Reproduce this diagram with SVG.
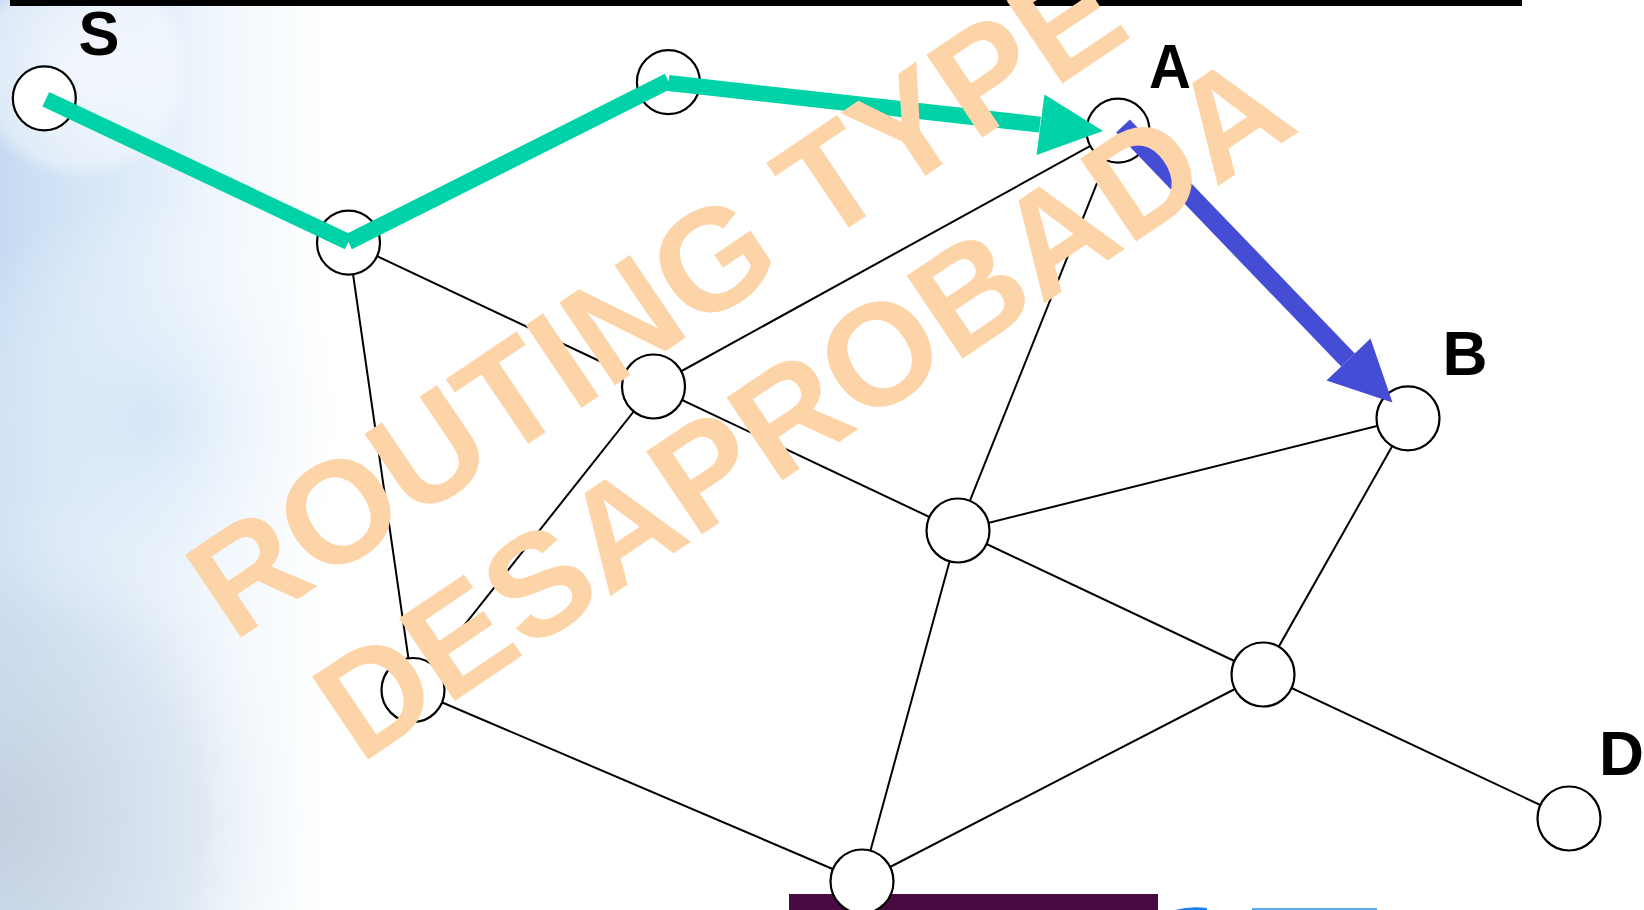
<svg xmlns="http://www.w3.org/2000/svg" width="1644" height="910" viewBox="0 0 1644 910">
  <defs>
    <linearGradient id="bgGrad" x1="0" y1="0" x2="1" y2="0">
      <stop offset="0" stop-color="#c6dbf2"/>
      <stop offset="0.07" stop-color="#dbe9f8"/>
      <stop offset="0.14" stop-color="#f2f8fd"/>
      <stop offset="0.2" stop-color="#ffffff"/>
    </linearGradient>
    <radialGradient id="earth" cx="0" cy="820" r="330" gradientUnits="userSpaceOnUse">
      <stop offset="0" stop-color="#c3cddc" stop-opacity="0.85"/>
      <stop offset="0.6" stop-color="#d3deea" stop-opacity="0.5"/>
      <stop offset="1" stop-color="#ffffff" stop-opacity="0"/>
    </radialGradient>
    <radialGradient id="halo" cx="80" cy="70" r="110" gradientUnits="userSpaceOnUse">
      <stop offset="0" stop-color="#ffffff" stop-opacity="0.7"/>
      <stop offset="0.85" stop-color="#ffffff" stop-opacity="0.4"/>
      <stop offset="1" stop-color="#ffffff" stop-opacity="0"/>
    </radialGradient>
    <radialGradient id="glow" cx="150" cy="420" r="220" gradientUnits="userSpaceOnUse">
      <stop offset="0" stop-color="#d2e4f6" stop-opacity="0.8"/>
      <stop offset="1" stop-color="#ffffff" stop-opacity="0"/>
    </radialGradient>
    <style>
      .edge { stroke: #000; stroke-width: 2; fill: none; }
      .node ellipse { fill: #fff; stroke: #000; stroke-width: 2.2; }
      .label { font-family: "Liberation Sans", Arial, sans-serif; font-weight: bold; font-size: 63px; fill: #000; }
      .green { stroke: #00d2a8; stroke-width: 16; fill: none; stroke-linecap: butt; }
      .blue { stroke: #454dd4; stroke-width: 19; fill: none; stroke-linecap: butt; }
      .wm { font-family: "Liberation Sans", Arial, sans-serif; font-weight: bold; font-size: 145px; fill: #fdd4a8; }
    </style>
  </defs>

  <!-- background -->
  <rect x="0" y="0" width="1644" height="910" fill="url(#bgGrad)"/>
  <rect x="0" y="200" width="450" height="450" fill="url(#glow)"/>
  <rect x="0" y="450" width="400" height="460" fill="url(#earth)"/>
  <rect x="0" y="0" width="220" height="200" fill="url(#halo)"/>

  <!-- top rule -->
  <rect x="10" y="0" width="1512" height="6" fill="#000"/>

  <!-- bottom decorations -->
  <rect x="789" y="894" width="369" height="16" fill="#470b42"/>
  <path d="M1175,910 Q1190,906 1207,908 L1207,910 Z" fill="#1a7ff0"/>
  <rect x="1252" y="908" width="125" height="2" fill="#5aaef0"/>

  <!-- connectors -->
  <g id="connectors">
    <line class="edge" x1="348.5" y1="242.7" x2="653.5" y2="386.5"/>
    <line class="edge" x1="348.5" y1="242.7" x2="413" y2="690"/>
    <line class="edge" x1="653.5" y1="386.5" x2="1118" y2="130.7"/>
    <line class="edge" x1="653.5" y1="386.5" x2="958" y2="530.5"/>
    <line class="edge" x1="653.5" y1="386.5" x2="413" y2="690"/>
    <line class="edge" x1="1118" y1="130.7" x2="958" y2="530.5"/>
    <line class="edge" x1="958" y1="530.5" x2="1408" y2="418.3"/>
    <line class="edge" x1="958" y1="530.5" x2="1263" y2="674.5"/>
    <line class="edge" x1="958" y1="530.5" x2="862" y2="881.5"/>
    <line class="edge" x1="1408" y1="418.3" x2="1263" y2="674.5"/>
    <line class="edge" x1="1263" y1="674.5" x2="1569" y2="818.5"/>
    <line class="edge" x1="1263" y1="674.5" x2="862" y2="881.5"/>
    <line class="edge" x1="413" y1="690" x2="862" y2="881.5"/>
  </g>

  <!-- nodes -->
  <g id="node-S" class="node"><ellipse cx="44.3" cy="98.3" rx="31.5" ry="32"/></g>
  <g id="node-N2" class="node"><ellipse cx="348.5" cy="242.7" rx="31.5" ry="32"/></g>
  <g id="node-N3" class="node"><ellipse cx="668.4" cy="82.2" rx="31.5" ry="32"/></g>
  <g id="node-A" class="node"><ellipse cx="1118" cy="130.7" rx="31.5" ry="32"/></g>
  <g id="node-C" class="node"><ellipse cx="653.5" cy="386.5" rx="31.5" ry="32"/></g>
  <g id="node-B" class="node"><ellipse cx="1408" cy="418.3" rx="31.5" ry="32"/></g>
  <g id="node-E" class="node"><ellipse cx="958" cy="530.5" rx="31.5" ry="32"/></g>
  <g id="node-F" class="node"><ellipse cx="1263" cy="674.5" rx="31.5" ry="32"/></g>
  <g id="node-G" class="node"><ellipse cx="413" cy="690" rx="31.5" ry="32"/></g>
  <g id="node-H" class="node"><ellipse cx="862" cy="881.5" rx="31.5" ry="32"/></g>
  <g id="node-D" class="node"><ellipse cx="1569" cy="818.5" rx="31.5" ry="32"/></g>

  <!-- route arrows -->
  <g id="route-green">
    <line class="green" x1="45.8" y1="99.3" x2="348.3" y2="242"/>
    <line class="green" x1="348.3" y1="242" x2="668.5" y2="81"/>
    <line class="green" x1="668.5" y1="83" x2="1040" y2="124.6"/>
    <polygon points="1103,131 1044.5,94.5 1036.5,155" fill="#00d2a8"/>
  </g>
  <g id="route-blue">
    <line class="blue" x1="1123" y1="126" x2="1348" y2="360"/>
    <polygon points="1392.5,402.5 1370.5,338.5 1326.5,380.5" fill="#454dd4"/>
  </g>

  <!-- labels -->
  <text class="label" x="78.5" y="54.5" textLength="41" lengthAdjust="spacingAndGlyphs">S</text>
  <text class="label" x="1149" y="88" textLength="42" lengthAdjust="spacingAndGlyphs">A</text>
  <text class="label" x="1442.5" y="375" textLength="45" lengthAdjust="spacingAndGlyphs">B</text>
  <text class="label" x="1599" y="775" textLength="45" lengthAdjust="spacingAndGlyphs">D</text>

  <!-- watermark -->
  <g id="watermark">
    <text class="wm" transform="translate(233,643) rotate(-34)">ROUTING TYPE</text>
    <text class="wm" transform="translate(360,765) rotate(-34)">DESAPROBADA</text>
  </g>
</svg>
